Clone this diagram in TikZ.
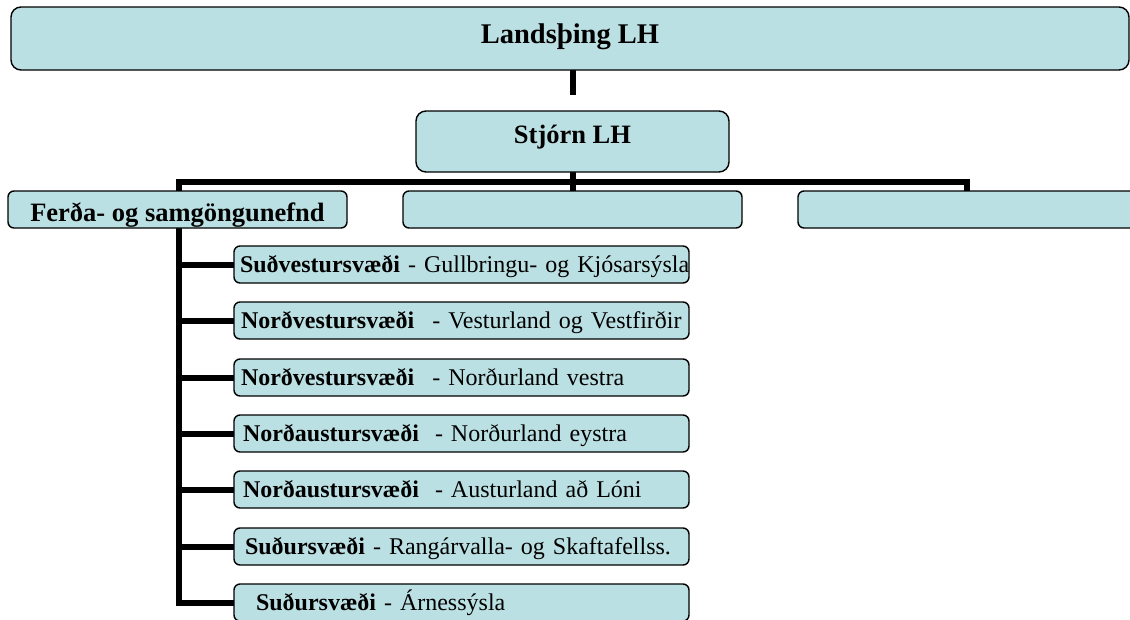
\documentclass[tikz,border=0pt]{standalone}
\usepackage{fontspec}
\setmainfont{Liberation Serif}
\usetikzlibrary{backgrounds}
\definecolor{boxfill}{HTML}{BBE0E3}
\begin{document}
\begin{tikzpicture}[x=1pt,y=-1pt,
  every node/.style={inner sep=0pt, outer sep=0pt},
  orgbox/.style={draw=black, fill=boxfill, line width=1.4pt, anchor=north west},
  bigbox/.style={orgbox, rounded corners=10pt},
  smallbox/.style={orgbox, rounded corners=6pt},
  headfont/.style={font=\bfseries\fontsize{26.5}{28}\selectfont},
  subbox/.style={smallbox, text width=455pt, align=left, text height=26pt, text depth=11pt, font=\fontsize{24}{26}\selectfont},
  conn/.style={line width=6pt, draw=black, line join=miter, line cap=butt}]
\useasboundingbox (0,0) rectangle (1130,619);
% boxes
\node[bigbox, minimum width=1118pt, text height=36pt, text depth=27pt, font=\bfseries\fontsize{28.5}{30}\selectfont] (lands) at (11,7) {Landsþing LH};
\node[bigbox, minimum width=313pt, text height=32pt, text depth=29pt, headfont] (stjorn) at (416,111) {Stjórn LH};
\node[smallbox, minimum width=339pt, text height=30pt, text depth=7pt, headfont] (ferda) at (8,191) {Ferða- og samgöngunefnd};
\node[smallbox, minimum width=339pt, minimum height=37pt] (mid) at (403,191) {};
\node[smallbox, minimum width=339pt, minimum height=37pt] (third) at (798,191) {};
\node[subbox] (sub1) at (234,246) {\mbox{\hspace*{6pt}\textbf{Suðvestursvæði} - Gullbringu- og Kjósarsýsla}};
\node[subbox] (sub2) at (234,302) {\mbox{\hspace*{7pt}\textbf{Norðvestursvæði}\hspace{18pt}- Vesturland og Vestfirðir}};
\node[subbox] (sub3) at (234,359) {\mbox{\hspace*{7pt}\textbf{Norðvestursvæði}\hspace{18pt}- Norðurland vestra}};
\node[subbox] (sub4) at (234,415) {\mbox{\hspace*{9pt}\textbf{Norðaustursvæði}\hspace{16pt}- Norðurland eystra}};
\node[subbox] (sub5) at (234,471) {\mbox{\hspace*{9pt}\textbf{Norðaustursvæði}\hspace{16pt}- Austurland að Lóni}};
\node[subbox] (sub6) at (234,528) {\mbox{\hspace*{11pt}\textbf{Suðursvæði} - Rangárvalla- og Skaftafellss.}};
\node[subbox] (sub7) at (234,584) {\mbox{\hspace*{22pt}\textbf{Suðursvæði} - Árnessýsla}};
% connector points
\coordinate (stub) at (573,95);
\coordinate (barL) at (179,182);
\coordinate (barR) at (967,182);
\begin{scope}[on background layer]
\fill[white] (0,0) rectangle (1130,619);
\draw[conn] (stub |- lands.south) -- (stub);
\draw[conn] (stjorn.south) -- (mid.north);
\draw[conn] (sub7.west) -| (barL) -- (barR) -- (barR |- third.north);
\foreach \i in {1,...,6} \draw[conn] (sub\i.west) -- (sub\i.west -| barL);
\end{scope}
\end{tikzpicture}
\end{document}
